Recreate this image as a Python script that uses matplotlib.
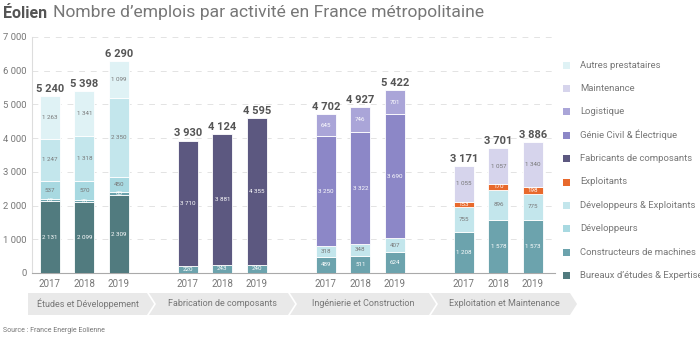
import matplotlib.pyplot as plt
import numpy as np
from matplotlib.patches import Polygon

plt.rcParams['font.family'] = ['Roboto', 'DejaVu Sans']

years = ['2017', '2018', '2019']
activities = ['Études et Développement', 'Fabrication de composants',
              'Ingénierie et Construction', 'Exploitation et Maintenance']
totals = [[5240, 5398, 6290], [3930, 4124, 4595],
          [4702, 4927, 5422], [3171, 3701, 3886]]

# stacking order of each activity, bottom to top: (series, values per year)
etudes = [('Bureaux d’études & Expertise', [2131, 2099, 2309]),
          ('Constructeurs de machines', [62, 70, 83]),
          ('Développeurs', [537, 570, 450]),
          ('Développeurs & Exploitants', [1247, 1318, 2350]),
          ('Autres prestataires', [1263, 1341, 1099])]
fabrication = [('Constructeurs de machines', [220, 243, 240]),
               ('Fabricants de composants', [3710, 3881, 4355])]
ingenierie = [('Constructeurs de machines', [489, 511, 624]),
              ('Développeurs & Exploitants', [318, 348, 407]),
              ('Génie Civil & Électrique', [3250, 3322, 3690]),
              ('Logistique', [645, 746, 701])]
exploitation = [('Constructeurs de machines', [1208, 1578, 1573]),
                ('Développeurs & Exploitants', [755, 896, 775]),
                ('Exploitants', [153, 170, 198]),
                ('Maintenance', [1055, 1057, 1340])]
stacks = [etudes, fabrication, ingenierie, exploitation]

legend_order = ['Autres prestataires', 'Maintenance', 'Logistique',
                'Génie Civil & Électrique', 'Fabricants de composants',
                'Exploitants', 'Développeurs & Exploitants', 'Développeurs',
                'Constructeurs de machines', 'Bureaux d’études & Expertise']
colors = {
    'Autres prestataires': '#dff2f5',
    'Maintenance': '#d6d4ec',
    'Logistique': '#aaa5d8',
    'Génie Civil & Électrique': '#8c87c7',
    'Fabricants de composants': '#5c5880',
    'Exploitants': '#e8692c',
    'Développeurs & Exploitants': '#c3e6ec',
    'Développeurs': '#a8d9e1',
    'Constructeurs de machines': '#6ca3ad',
    'Bureaux d’études & Expertise': '#517b7f',
}
dark = {'Fabricants de composants', 'Génie Civil & Électrique', 'Logistique',
        'Constructeurs de machines', 'Bureaux d’études & Expertise', 'Exploitants'}

GREY = '#777777'
W, H = 700, 337


def fmt(v):
    return f'{v:,}'.replace(',', ' ')


fig = plt.figure(figsize=(W / 100, H / 100), dpi=100)
ax = fig.add_axes([32 / W, (H - 273) / H, (555 - 32) / W, (273 - 37) / H])

width = 0.58
for g, stack in enumerate(stacks):
    xs = g * 4 + np.arange(3)
    bottom = np.zeros(3)
    for name, vals in stack:
        vals = np.array(vals, dtype=float)
        ax.bar(xs, vals, width, bottom=bottom, color=colors[name],
               edgecolor='white', linewidth=0.6, zorder=3)
        tc = 'white' if name in dark else '#777777'
        for x, b, v in zip(xs, bottom, vals):
            ax.text(x, b + v / 2, fmt(int(v)), ha='center', va='center',
                    fontsize=4.5, color=tc, zorder=4)
        bottom += vals
    for x, t in zip(xs, totals[g]):
        ax.text(x, t + 60, fmt(t), ha='center', va='bottom', fontsize=8,
                fontweight='bold', color='#555555')
    for x, y in zip(xs, years):
        ax.text(x, -180, y, ha='center', va='top', fontsize=7, color=GREY)

ax.set_xlim(-0.52, 14.64)
ax.set_ylim(0, 7000)
ax.set_yticks(np.arange(0, 7001, 1000))
ax.set_yticklabels([fmt(v) for v in range(0, 7001, 1000)])
ax.tick_params(axis='y', length=0, labelsize=6.8, labelcolor=GREY, pad=4)
ax.set_xticks([])
ax.grid(axis='y', color='#e3e3e3', linestyle=(0, (6, 6)), linewidth=0.7, zorder=0)
for s in ['top', 'right']:
    ax.spines[s].set_visible(False)
ax.spines['left'].set_color('#dddddd')
ax.spines['bottom'].set_color('#aaaaaa')
ax.spines['left'].set_linewidth(0.8)

# overlay in pixel coordinates for title, chevrons, legend and source
ov = fig.add_axes([0, 0, 1, 1], zorder=-1)
ov.set_xlim(0, W)
ov.set_ylim(H, 0)
ov.axis('off')
ov.patch.set_alpha(0)

ov.text(3, 13, 'Éolien', fontsize=11.5, fontweight='bold', color='#555555',
        va='center')
ov.text(53, 13, 'Nombre d’emplois par activité en France métropolitaine',
        fontsize=12.6, color=GREY, va='center')

edges = [28, 149, 290, 431, 572]
top, bot, tip = 293, 315, 7
for i in range(4):
    x0, x1 = edges[i], edges[i + 1] - 2
    pts = [(x0, top), (x1, top), (x1 + tip, (top + bot) / 2), (x1, bot), (x0, bot)]
    if i > 0:
        pts.append((x0 + tip, (top + bot) / 2))
    ov.add_patch(Polygon(pts, closed=True, facecolor='#e9e9e9', edgecolor='none'))
    cx = (x0 + x1) / 2 + (tip / 2 if i > 0 else 0)
    ov.text(cx, (top + bot) / 2, activities[i], ha='center', va='center',
            fontsize=6.5, color=GREY)

for k, name in enumerate(legend_order):
    y = 65 + k * 23.4
    ov.add_patch(plt.Rectangle((563, y - 3.5), 7, 7, facecolor=colors[name],
                               edgecolor='none'))
    ov.text(580, y, name, va='center', fontsize=6.8, color=GREY)

ov.text(3, 331, 'Source : France Energie Eolienne', fontsize=5, color=GREY,
        va='center')

fig.savefig('out.png', dpi=100)
